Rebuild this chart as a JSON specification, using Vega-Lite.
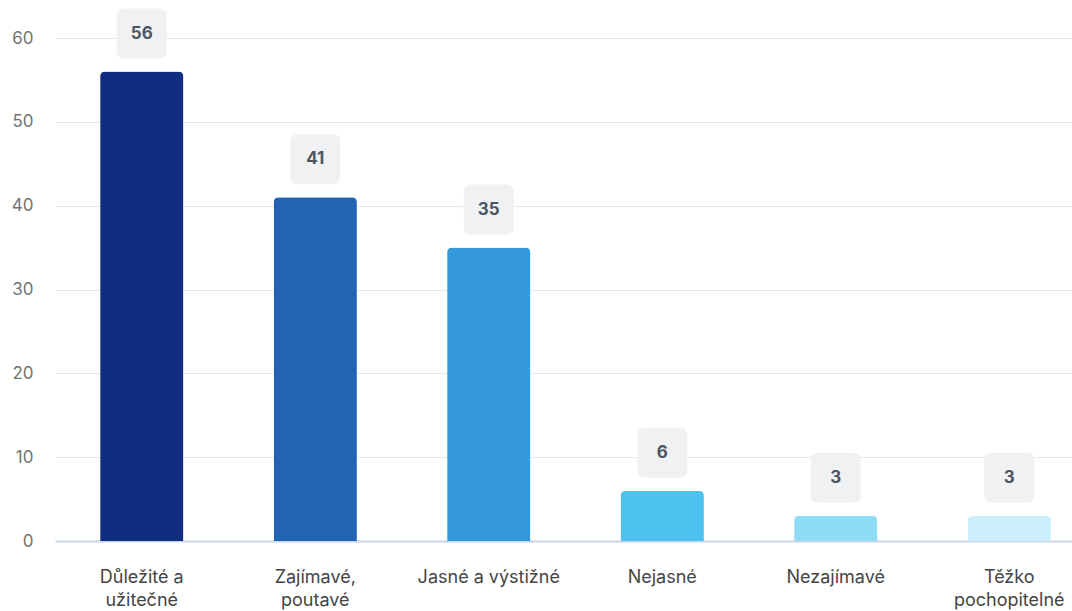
{
  "$schema": "https://vega.github.io/schema/vega-lite/v6.json",
  "width": 1041,
  "height": 503,
  "autosize": {"type": "none"},
  "padding": {"left": 55, "top": 38, "right": 0, "bottom": 70},
  "background": "white",
  "config": {
    "view": {"stroke": null},
    "font": "Inter"
  },
  "data": {
    "values": [
      {"kategorie": "Důležité a užitečné", "pocet": 56},
      {"kategorie": "Zajímavé, poutavé", "pocet": 41},
      {"kategorie": "Jasné a výstižné", "pocet": 35},
      {"kategorie": "Nejasné", "pocet": 6},
      {"kategorie": "Nezajímavé", "pocet": 3},
      {"kategorie": "Těžko pochopitelné", "pocet": 3}
    ]
  },
  "encoding": {
    "x": {
      "field": "kategorie",
      "type": "nominal",
      "sort": null,
      "scale": {"paddingInner": 0.52, "paddingOuter": 0.26},
      "axis": {
        "title": null,
        "labelAngle": 0,
        "ticks": false,
        "domain": true,
        "domainColor": "#c9d3ea",
        "domainWidth": 2,
        "labelPadding": 27,
        "labelFontSize": 18,
        "labelColor": "#454545",
        "labelFont": "Inter",
        "labelLineHeight": 23,
        "labelBaseline": "top",
        "labelExpr": "datum.value == 'Důležité a užitečné' ? ['Důležité a', 'užitečné'] : datum.value == 'Zajímavé, poutavé' ? ['Zajímavé,', 'poutavé'] : datum.value == 'Těžko pochopitelné' ? ['Těžko', 'pochopitelné'] : datum.value"
      }
    },
    "y": {
      "field": "pocet",
      "type": "quantitative",
      "scale": {"domain": [0, 60], "nice": false},
      "axis": {
        "title": null,
        "values": [0, 10, 20, 30, 40, 50, 60],
        "ticks": false,
        "domain": false,
        "gridColor": "#e6e8ec",
        "gridWidth": 1,
        "labelPadding": 22,
        "labelFontSize": 17,
        "labelColor": "#737373",
        "labelFont": "Inter"
      }
    }
  },
  "layer": [
    {
      "mark": {"type": "bar", "cornerRadiusTopLeft": 5, "cornerRadiusTopRight": 5},
      "encoding": {
        "color": {
          "field": "kategorie",
          "type": "nominal",
          "sort": null,
          "legend": null,
          "scale": {
            "domain": ["Důležité a užitečné", "Zajímavé, poutavé", "Jasné a výstižné", "Nejasné", "Nezajímavé", "Těžko pochopitelné"],
            "range": ["#102e80", "#2263b4", "#3598dc", "#4ec2ee", "#8edcf5", "#cbf0fb"]
          }
        }
      }
    },
    {
      "mark": {
        "type": "point",
        "filled": true,
        "opacity": 1,
        "fill": "#eff1f2",
        "strokeWidth": 0,
        "size": 2500,
        "yOffset": -38,
        "shape": "M -0.7 -1 L 0.7 -1 Q 1 -1 1 -0.7 L 1 0.7 Q 1 1 0.7 1 L -0.7 1 Q -1 1 -1 0.7 L -1 -0.7 Q -1 -1 -0.7 -1 Z"
      }
    },
    {
      "mark": {
        "type": "text",
        "yOffset": -38,
        "baseline": "middle",
        "align": "center",
        "fontSize": 17,
        "fontWeight": "bold",
        "fill": "#4b5563",
        "font": "Inter"
      },
      "encoding": {
        "text": {"field": "pocet", "type": "quantitative"}
      }
    }
  ]
}
